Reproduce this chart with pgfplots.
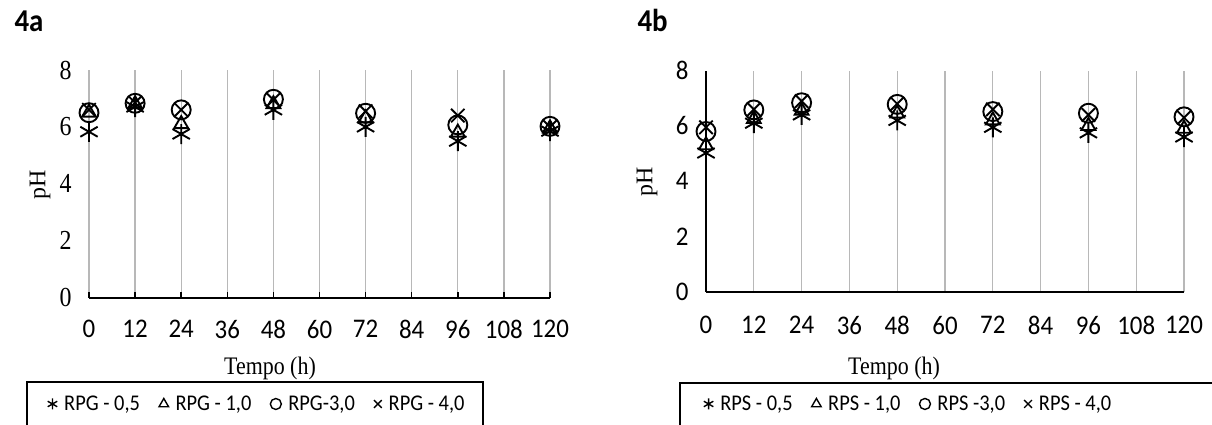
\documentclass[border=0pt]{standalone}
\usepackage{fontspec}
\setmainfont{Liberation Serif}
\newfontfamily\calfont{Carlito}
\usepackage{graphicx}
\usepackage{pgfplots}
\pgfplotsset{compat=1.18}
\newcommand{\vs}[2][1.15]{\scalebox{1}[#1]{#2}}
\pgfplotsset{
  common/.style={
    scale only axis, xmin=0, xmax=120, ymin=0, ymax=8,
    xtick={0,12,...,120}, ytick={0,2,...,8},
    /pgf/number format/assume math mode=true,
    axis x line*=bottom, axis y line*=left,
    xmajorgrids, grid style={draw=black!28, line width=1.3bp},
    x axis line style={line width=1.8bp, black},
    xticklabel={\vs[1.08]{\pgfmathprintnumber{\tick}}},
    every axis plot/.append style={line width=1.9bp, black},
    legend columns=4,
    legend style={draw=none, fill=none, inner sep=0pt, anchor=west,
      font=\calfont\fontsize{20.5}{25}\selectfont,
      /tikz/every even column/.append style={column sep=17bp},
      /tikz/every odd column/.append style={column sep=5bp}},
    legend image code/.code={\draw[##1, mark size=5.5bp, line width=1.4bp] plot coordinates {(0bp,0bp)};},
  },
  s1/.style={only marks, mark=asterisk, mark size=10bp},
  s2/.style={only marks, mark=triangle, mark size=8bp},
  s3/.style={only marks, mark=o, mark size=9.5bp},
  s4/.style={only marks, mark=x, mark size=9.5bp},
}
\begin{document}
\begin{tikzpicture}[x=1bp,y=1bp]
\useasboundingbox (0,0) rectangle (1212,424);
% ---------- 4a ----------
\begin{axis}[common,
  at={(89bp,126.3bp)}, anchor=south west, width=461bp, height=227.7bp,
  y axis line style={draw=none},
  tick align=inside, major tick length=6bp,
  xtick style={black, line width=1.5bp}, ytick style={draw=none},
  x tick label style={font=\calfont\fontsize{25}{30}\selectfont, yshift=-19bp},
  y tick label style={font=\fontsize{24}{28}\selectfont, xshift=-14bp},
  yticklabel={\vs[1.15]{\pgfmathprintnumber{\tick}}},
  legend style={at={(-0.09,-0.4668)}},
]
\addplot[s1] coordinates {(0,5.83)(12,6.7)(24,5.75)(48,6.6)(72,6.0)(96,5.5)(120,5.85)};
\addlegendentry{\vs[1.1]{RPG - 0,5}}
\addplot[s2] coordinates {(0,6.5)(12,6.8)(24,6.1)(48,6.8)(72,6.3)(96,5.8)(120,5.95)};
\addlegendentry{\vs[1.1]{RPG - 1,0}}
\addplot[s3] coordinates {(0,6.5)(12,6.83)(24,6.6)(48,6.97)(72,6.48)(96,6.07)(120,6.02)};
\addlegendentry{\vs[1.1]{RPG-3,0}}
\addplot[s4] coordinates {(0,6.6)(12,6.85)(24,6.6)(48,6.95)(72,6.55)(96,6.4)(120,6.0)};
\addlegendentry{\vs[1.1]{RPG - 4,0}}
\end{axis}
% ---------- 4b ----------
\begin{axis}[common,
  at={(706bp,132.3bp)}, anchor=south west, width=478bp, height=221bp,
  y axis line style={line width=1.8bp, black},
  xtick style={draw=none}, ytick style={draw=none},
  x tick label style={font=\calfont\fontsize{25}{30}\selectfont, yshift=-21bp},
  y tick label style={font=\calfont\fontsize{25}{30}\selectfont, xshift=-14bp},
  yticklabel={\vs[1.08]{\pgfmathprintnumber{\tick}}},
  legend style={at={(-0.005,-0.508)}},
]
\addplot[s1] coordinates {(0,5.02)(12,6.1)(24,6.4)(48,6.2)(72,5.95)(96,5.75)(120,5.6)};
\addlegendentry{\vs[1.1]{RPS - 0,5}}
\addplot[s2] coordinates {(0,5.3)(12,6.25)(24,6.55)(48,6.45)(72,6.2)(96,6.0)(120,5.9)};
\addlegendentry{\vs[1.1]{RPS - 1,0}}
\addplot[s3] coordinates {(0,5.8)(12,6.58)(24,6.84)(48,6.78)(72,6.52)(96,6.46)(120,6.33)};
\addlegendentry{\vs[1.1]{RPS -3,0}}
\addplot[s4] coordinates {(0,5.95)(12,6.6)(24,6.9)(48,6.8)(72,6.6)(96,6.4)(120,6.3)};
\addlegendentry{\vs[1.1]{RPS - 4,0}}
\end{axis}
% titles and labels
\node[anchor=base west, font=\calfont\bfseries\fontsize{29}{34}\selectfont] at (11,392) {\vs[1.1]{4a}};
\node[anchor=base west, font=\calfont\bfseries\fontsize{29}{34}\selectfont] at (634,392) {\vs[1.1]{4b}};
\node[rotate=90, font=\fontsize{24}{30}\selectfont] at (40,239) {pH};
\node[rotate=90, font=\fontsize{24}{30}\selectfont] at (647,242) {pH};
\node[font=\fontsize{22}{30}\selectfont] at (270,56) {\vs[1.15]{Tempo (h)}};
\node[font=\fontsize{22}{30}\selectfont] at (894,56) {\vs[1.15]{Tempo (h)}};
% legend frames
\draw[line width=2bp] (27,-10) -- (27,42) -- (483,42) -- (483,-10);
\draw[line width=2bp] (680,-10) -- (680,41) -- (1240,41);
\end{tikzpicture}
\end{document}
